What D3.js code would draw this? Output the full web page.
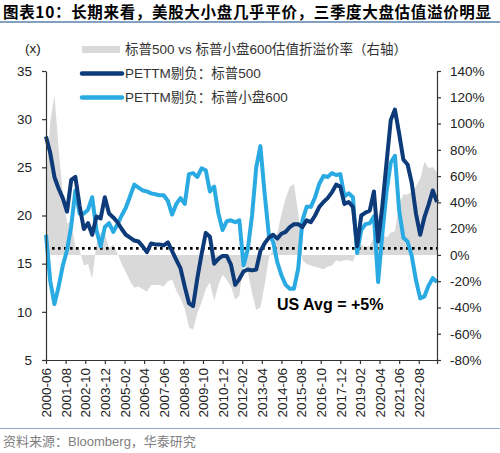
<!DOCTYPE html>
<html><head><meta charset="utf-8">
<script src="https://cdn.jsdelivr.net/npm/d3@7"></script>
<style>body{margin:0;background:#fff}svg{display:block}</style>
</head><body>
<svg id="c" width="500" height="453"></svg>
<script>
// ---- data (sampled every 3 months starting 2000-06) ----
const startMonth = "2000-06";
const stepMonths = 3;
const pe500 = [28.2,26.5,24.0,22.8,21.8,20.4,23.7,24.0,21.0,18.6,19.2,18.0,19.9,19.7,21.9,20.2,19.8,19.3,18.6,18.0,
  17.7,17.4,17.3,16.8,16.2,17.1,17.0,17.0,16.9,17.2,16.3,15.4,14.5,12.6,10.9,10.6,13.5,16.0,18.2,17.8,
  15.0,15.5,15.8,15.8,14.9,12.8,13.4,14.2,14.4,14.3,14.4,16.3,17.1,17.7,18.0,17.6,18.1,18.3,18.8,19.1,
  19.1,18.8,19.5,19.3,20.0,20.9,21.4,21.8,22.4,23.2,23.0,21.2,21.4,20.9,16.8,20.0,20.3,20.5,22.5,17.3,
  21.0,25.5,29.9,31.0,28.5,25.8,25.3,23.4,20.2,18.0,19.8,21.1,22.6,21.4];
const pe600 = [18.0,13.2,10.8,12.6,14.8,16.4,18.9,22.6,20.2,20.2,20.6,21.9,18.5,16.8,18.8,19.2,18.3,19.1,20.0,20.8,
  22.0,23.2,22.9,22.6,22.5,22.3,22.2,22.1,22.1,21.5,20.1,21.2,21.8,21.2,24.3,24.4,24.0,24.9,24.7,22.5,
  23.0,20.2,18.5,19.4,19.5,19.3,19.5,14.8,16.5,20.0,25.0,27.2,22.3,18.0,17.3,15.2,13.8,12.8,12.4,12.4,
  14.5,19.5,20.9,20.9,21.9,23.3,24.1,24.0,24.4,24.2,24.3,22.0,22.3,21.9,16.1,18.5,19.1,19.2,19.9,13.1,
  18.1,22.5,25.5,26.2,20.5,17.7,17.3,15.8,13.3,11.4,11.6,12.7,13.5,13.1];
const premium = [57,101,122,81,47,24,25,6,4,-8,-7,-18,8,17,16,5,8,1,-7,-13,
  -20,-25,-24,-26,-28,-23,-23,-23,-24,-20,-19,-27,-33,-41,-55,-57,-44,-36,-26,-21,
  -35,-23,-15,-19,-24,-34,-31,-4,-13,-29,-42,-40,-23,-2,4,16,31,43,52,54,
  32,-4,-7,-8,-9,-10,-11,-9,-8,-4,-5,-4,-4,-5,4,8,6,7,13,32,
  16,13,17,18,39,46,46,48,52,58,71,66,67,63];
const xTickLabels = ["2000-06","2001-08","2002-10","2003-12","2005-02","2006-04","2007-06","2008-08","2009-10","2010-12",
  "2012-02","2013-04","2014-06","2015-08","2016-10","2017-12","2019-02","2020-04","2021-06","2022-08"];
const leftTicks = [5,10,15,20,25,30,35];
const rightTicks = [-80,-60,-40,-20,0,20,40,60,80,100,120,140];
const usAvg = 5;
const titleText = "图表10：长期来看，美股大小盘几乎平价，三季度大盘估值溢价明显";
const legendNames = ["标普500 vs 标普小盘600估值折溢价率（右轴）","PETTM剔负：标普500","PETTM剔负：标普小盘600"];
const sourceText = "资料来源：Bloomberg，华泰研究";

// ---- setup ----
const svg = d3.select("#c");
const FONT = "'Liberation Sans', Arial, 'Noto Sans CJK SC', sans-serif";
const C_DARK = "#0d3a78", C_LIGHT = "#2aaae2", C_GRAY = "#d9d9d9", C_LINE = "#5a80ad";
const parse = d3.timeParse("%Y-%m");
const fmt = d3.timeFormat("%Y-%m");
const t0 = parse(startMonth);
const dates = pe500.map((_, i) => d3.timeMonth.offset(t0, i * stepMonths));
const L = 46, R = 437, T = 71, B = 360;

const x = d3.scaleTime().domain([t0, dates[dates.length - 1]]).range([L, R]);
const yL = d3.scaleLinear().domain([5, 35]).range([B, T]);
const yR = d3.scaleLinear().domain([-80, 140]).range([B, T]);

// title
svg.append("text").attr("x", 3).attr("y", 18).text(titleText)
  .attr("font-family", "'Noto Sans CJK SC', sans-serif").attr("font-weight", "bold")
  .attr("font-size", 15.5).attr("fill", "#000").attr("textLength", 488).attr("lengthAdjust", "spacing");
svg.append("line").attr("x1", 0).attr("x2", 500).attr("y1", 22).attr("y2", 22)
  .attr("stroke", C_LINE).attr("stroke-width", 1.5);

// gray area (right axis)
const area = d3.area().x((d, i) => x(dates[i])).y0(yR(0)).y1(d => yR(d));
svg.append("path").datum(premium).attr("d", area).attr("fill", C_GRAY);

// dotted avg line
svg.append("line").attr("x1", L).attr("x2", R).attr("y1", yR(usAvg)).attr("y2", yR(usAvg))
  .attr("stroke", "#000").attr("stroke-width", 2.6).attr("stroke-dasharray", "2.6 3.4");

// lines
const line = d3.line().x((d, i) => x(dates[i])).y(d => yL(d)).curve(d3.curveLinear);
svg.append("path").datum(pe600).attr("d", line).attr("fill", "none")
  .attr("stroke", C_LIGHT).attr("stroke-width", 4).attr("stroke-linejoin", "round");
svg.append("path").datum(pe500).attr("d", line).attr("fill", "none")
  .attr("stroke", C_DARK).attr("stroke-width", 4).attr("stroke-linejoin", "round");

// axes
function styleAxis(g) {
  g.selectAll("path,line").attr("stroke", "#333").attr("stroke-width", 1.2);
  g.selectAll("text").attr("font-family", FONT).attr("font-size", 13.5).attr("fill", "#222");
}
const gL = svg.append("g").attr("transform", `translate(${L},0)`)
  .call(d3.axisLeft(yL).tickValues(leftTicks).tickSize(4).tickSizeOuter(0).tickPadding(10).tickFormat(d3.format("d")));
styleAxis(gL);
const gR = svg.append("g").attr("transform", `translate(${R},0)`)
  .call(d3.axisRight(yR).tickValues(rightTicks).tickSize(4).tickSizeOuter(0).tickPadding(9).tickFormat(d => d + "%"));
styleAxis(gR);
const xTickDates = xTickLabels.map(parse);
const gX = svg.append("g").attr("transform", `translate(0,${B})`)
  .call(d3.axisBottom(x).tickValues(xTickDates.concat([dates[dates.length - 1]])).tickSize(4).tickSizeOuter(0)
    .tickFormat(d => xTickLabels.includes(fmt(d)) ? fmt(d) : ""));
styleAxis(gX);
gX.select(".domain").attr("d", `M${L},0.5H${R}`);
gX.selectAll("text").attr("transform", "rotate(-90)").attr("text-anchor", "end")
  .attr("x", -8).attr("y", 0).attr("dy", "0.35em");

// legend
svg.append("text").attr("x", 25).attr("y", 53).text("(x)")
  .attr("font-family", FONT).attr("font-size", 13.5).attr("fill", "#222");
svg.append("rect").attr("x", 82).attr("y", 46).attr("width", 38).attr("height", 7).attr("fill", C_GRAY);
const legY = [49.5, 73.5, 97.5];
svg.append("line").attr("x1", 82).attr("x2", 122).attr("y1", legY[1]).attr("y2", legY[1])
  .attr("stroke", C_DARK).attr("stroke-width", 4.5).attr("stroke-linecap", "round");
svg.append("line").attr("x1", 82).attr("x2", 122).attr("y1", legY[2]).attr("y2", legY[2])
  .attr("stroke", C_LIGHT).attr("stroke-width", 4.5).attr("stroke-linecap", "round");
legendNames.forEach((n, i) => {
  svg.append("text").attr("x", 125).attr("y", legY[i]).attr("dy", "0.36em").text(n)
    .attr("font-family", FONT).attr("font-size", 13.5).attr("fill", "#333");
});

// annotation
svg.append("text").attr("x", 277).attr("y", 310).text("US Avg = +5%")
  .attr("font-family", FONT).attr("font-weight", "bold").attr("font-size", 16).attr("fill", "#000");

// source
svg.append("line").attr("x1", 0).attr("x2", 500).attr("y1", 428.5).attr("y2", 428.5)
  .attr("stroke", "#8eaacb").attr("stroke-width", 1.2);
svg.append("text").attr("x", 3).attr("y", 446).text(sourceText)
  .attr("font-family", FONT).attr("font-size", 13).attr("fill", "#808080");
</script>
</body></html>
